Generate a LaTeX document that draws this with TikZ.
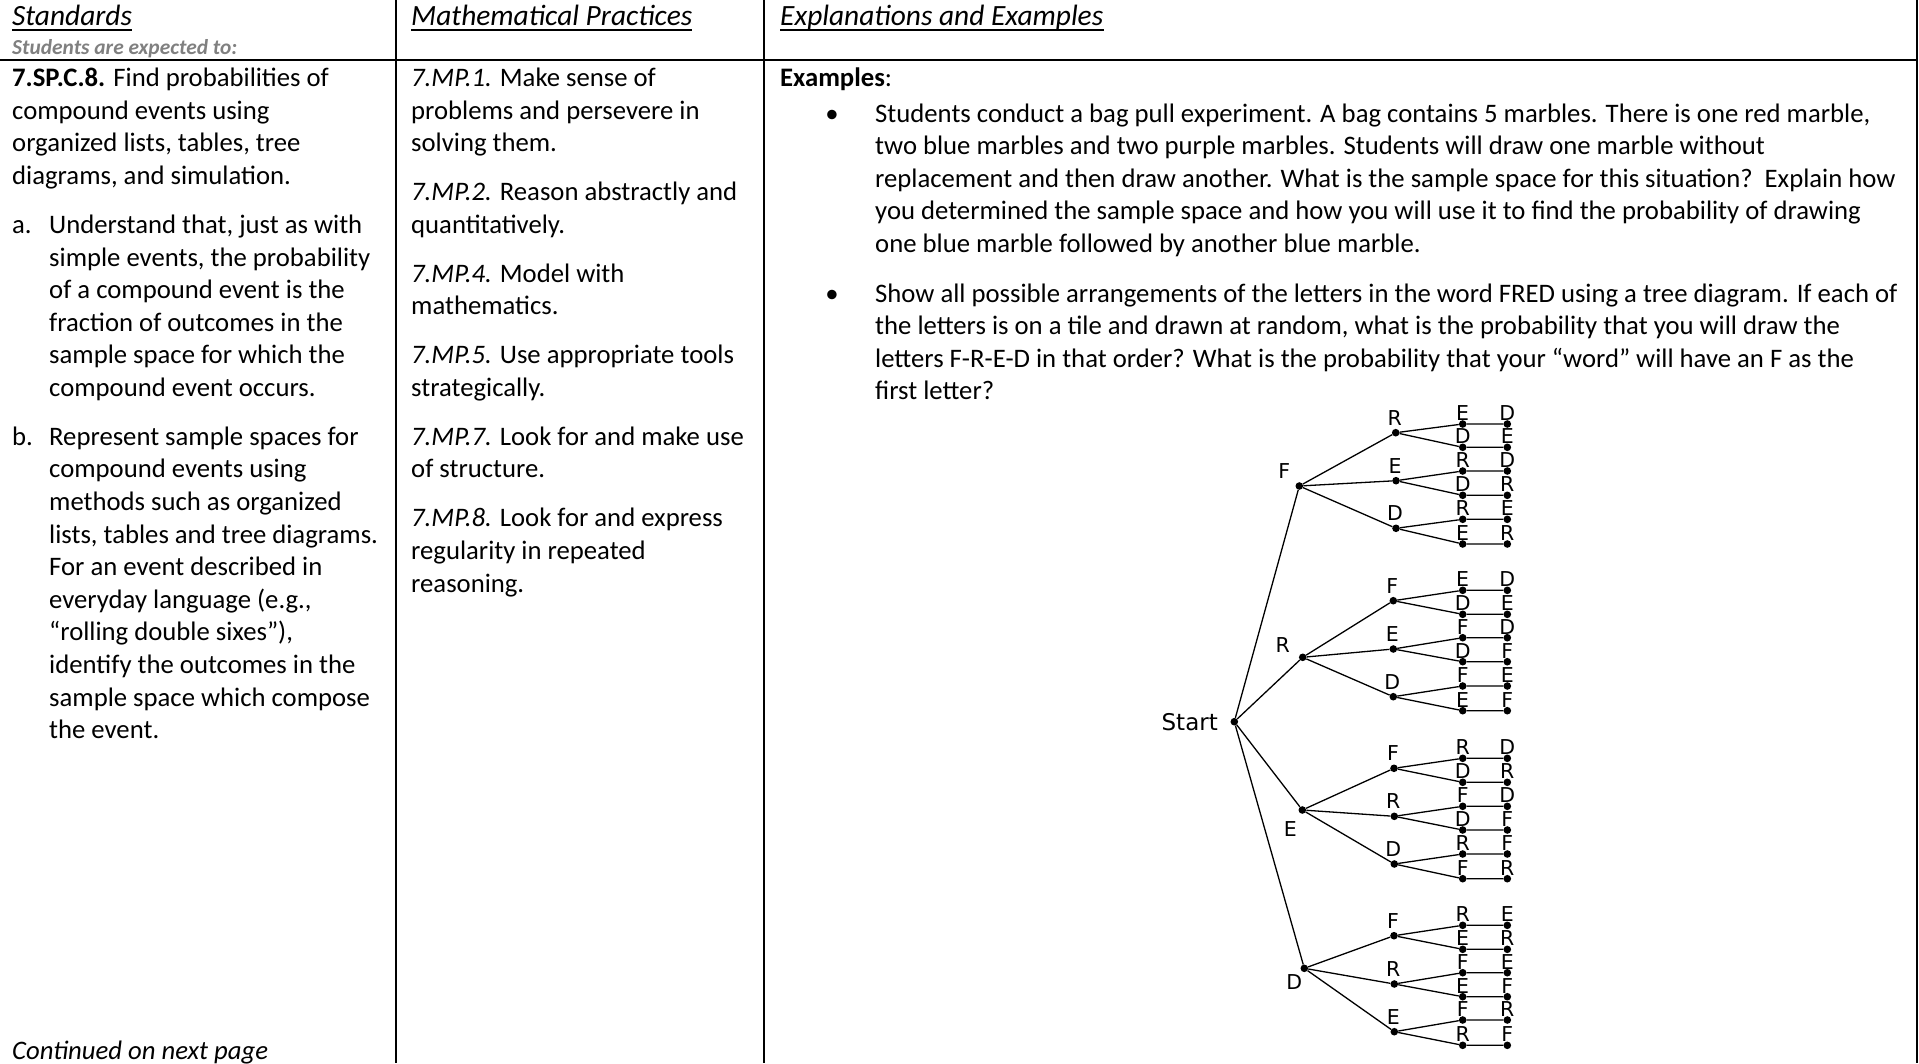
\documentclass[tikz,border=0pt]{standalone}
\usepackage{fontspec}
\setmainfont{Carlito}
\newfontfamily\treefont{DejaVu Sans}
\definecolor{subgray}{RGB}{128,128,128}
\newcommand\bodyfont{\fontsize{26.7}{32.6}\selectfont}
\newcommand\Para[1]{\vtop{\baselineskip=32.6pt\lineskiplimit=-1000pt\lineskip=0pt #1}}
\newcommand\Lh[1]{\hbox{#1}}
\newcommand\Ib[1]{\makebox[37pt][l]{#1}}
\newcommand\Ii{\hskip37pt}
\newcommand\Pgap{\vskip16.3pt}
\begin{document}
\begin{tikzpicture}[x=1pt,y=-1pt,
  tline/.style={line width=1.3pt, black},
  tdot/.style={circle, fill=black, inner sep=0pt, minimum size=7.6pt},
  tlab/.style={font=\treefont\fontsize{20.5}{24}\selectfont, inner sep=0pt},
  rule/.style={line width=2.2pt},
  txt/.style={anchor=base west, inner sep=0pt, font=\bodyfont},
  hdr/.style={anchor=base west, inner sep=0pt, font=\fontsize{29.4}{35}\selectfont\itshape},
  uline/.style={line width=1.5pt}]
\useasboundingbox (0,0) rectangle (1919,1063);

% table rules
\draw[rule] (0,60) -- (1917,60);
\draw[rule] (396,0) -- (396,1063);
\draw[rule] (764,0) -- (764,1063);
\draw[rule] (1916.7,0) -- (1916.7,1063);

% headers
\node[hdr] (h1) at (12,25.5) {Standards};
\node[hdr] (h2) at (411,25.5) {Mathematical Practices};
\node[hdr] (h3) at (780,25.5) {Explanations and Examples};
\foreach \h in {h1,h2,h3}{
  \draw[uline] ([yshift=-4.5pt]\h.base west) -- ([yshift=-4.5pt]\h.base east);
}
\node[anchor=base west, inner sep=0pt, text=subgray,
  font=\fontsize{21.4}{26}\selectfont\bfseries\itshape] (sub) at (12,54) {Students are expected to:};

% column 1
\node[txt] (std) at (12,86.7) {\Para{%
\Lh{\textbf{7.SP.C.8.} Find probabilities of}
\Lh{compound events using}
\Lh{organized lists, tables, tree}
\Lh{diagrams, and simulation.}
\Pgap
\Lh{\Ib{a.}Understand that, just as with}
\Lh{\Ii simple events, the probability}
\Lh{\Ii of a compound event is the}
\Lh{\Ii fraction of outcomes in the}
\Lh{\Ii sample space for which the}
\Lh{\Ii compound event occurs.}
\Pgap
\Lh{\Ib{b.}Represent sample spaces for}
\Lh{\Ii compound events using}
\Lh{\Ii methods such as organized}
\Lh{\Ii lists, tables and tree diagrams.}
\Lh{\Ii For an event described in}
\Lh{\Ii everyday language (e.g.,}
\Lh{\Ii “rolling double sixes”),}
\Lh{\Ii identify the outcomes in the}
\Lh{\Ii sample space which compose}
\Lh{\Ii the event.}
}};
\node[txt, font=\bodyfont\itshape] (cont) at (12,1059) {Continued on next page};

% column 2
\node[txt] (mp) at (411,86.7) {\Para{%
\Lh{\textit{7.MP.1.} Make sense of}
\Lh{problems and persevere in}
\Lh{solving them.}
\Pgap
\Lh{\textit{7.MP.2.} Reason abstractly and}
\Lh{quantitatively.}
\Pgap
\Lh{\textit{7.MP.4.} Model with}
\Lh{mathematics.}
\Pgap
\Lh{\textit{7.MP.5.} Use appropriate tools}
\Lh{strategically.}
\Pgap
\Lh{\textit{7.MP.7.} Look for and make use}
\Lh{of structure.}
\Pgap
\Lh{\textit{7.MP.8.} Look for and express}
\Lh{regularity in repeated}
\Lh{reasoning.}
}};

% column 3
\node[txt] (ex) at (780,86.7) {\textbf{Examples}:};
\node[anchor=base, inner sep=0pt, font=\bodyfont] (b1) at (832,122.1) {•};
\node[anchor=base, inner sep=0pt, font=\bodyfont] (b2) at (832,302.1) {•};
\node[txt] (p1) at (875,122.1) {\Para{%
\Lh{Students conduct a bag pull experiment. A bag contains 5 marbles. There is one red marble,}
\Lh{two blue marbles and two purple marbles. Students will draw one marble without}
\Lh{replacement and then draw another. What is the sample space for this situation?\ \ Explain how}
\Lh{you determined the sample space and how you will use it to find the probability of drawing}
\Lh{one blue marble followed by another blue marble.}
}};
\node[txt] (p2) at (875,302.1) {\Para{%
\Lh{Show all possible arrangements of the letters in the word FRED using a tree diagram. If each of}
\Lh{the letters is on a tile and drawn at random, what is the probability that you will draw the}
\Lh{letters F-R-E-D in that order? What is the probability that your “word” will have an F as the}
\Lh{first letter?}
}};

% tree
\node[tdot] (S) at (1234.3,721.7) {};
\node[tlab, anchor=east, font=\treefont\fontsize{23}{27}\selectfont] (Slab) at (1218,722) {Start};

\foreach \n/\x/\y/\dx/\dy/\t in {F1/1299.3/486/-15/-15/F, R1/1302.7/657.3/-20/-12/R, E1/1302.3/810/-12/19/E, D1/1304.3/968.3/-10/14/D}{
  \node[tdot] (\n) at (\x,\y) {};
  \node[tlab] (\n-l) at (\x+\dx,\y+\dy) {\t};
  \draw[tline] (S) -- (\n);
}

\foreach \n/\p/\x/\y/\t in {
  F1R/F1/1395.7/432.7/R, F1E/F1/1396/480.7/E, F1D/F1/1396/528.3/D,
  R1F/R1/1393.3/600.7/F, R1E/R1/1393.3/649/E, R1D/R1/1393.3/696.7/D,
  E1F/E1/1394/768.3/F, E1R/E1/1394.3/816.3/R, E1D/E1/1394.3/864/D,
  D1F/D1/1394/935.7/F, D1R/D1/1394.3/984/R, D1E/D1/1394.3/1031.7/E}{
  \node[tdot] (\n) at (\x,\y) {};
  \node[tlab] (\n-l) at (\x-1,\y-15) {\t};
  \draw[tline] (\p) -- (\n);
}

\foreach \n/\p/\y/\a/\b in {
  F1Ra/F1R/424/E/D, F1Rb/F1R/447.3/D/E, F1Ea/F1E/471/R/D, F1Eb/F1E/495.3/D/R, F1Da/F1D/519.3/R/E, F1Db/F1D/544/E/R,
  R1Fa/R1F/590.3/E/D, R1Fb/R1F/614.3/D/E, R1Ea/R1E/637.7/F/D, R1Eb/R1E/661.7/D/F, R1Da/R1D/686/F/E, R1Db/R1D/710.7/E/F,
  E1Fa/E1F/758.3/R/D, E1Fb/E1F/782.3/D/R, E1Ra/E1R/806.3/F/D, E1Rb/E1R/830/D/F, E1Da/E1D/854/R/F, E1Db/E1D/878.7/F/R,
  D1Fa/D1F/925.3/R/E, D1Fb/D1F/949.3/E/R, D1Ra/D1R/972.7/F/E, D1Rb/D1R/996.7/E/F, D1Ea/D1E/1020/F/R, D1Eb/D1E/1045.3/R/F}{
  \node[tdot] (\n-3) at (1462.7,\y) {};
  \node[tdot] (\n-4) at (1507.3,\y) {};
  \node[tlab] (\n-3l) at (1462.7,\y-11) {\a};
  \node[tlab] (\n-4l) at (1507.3,\y-11) {\b};
  \draw[tline] (\p) -- (\n-3) -- (\n-4);
}
\end{tikzpicture}
\end{document}
